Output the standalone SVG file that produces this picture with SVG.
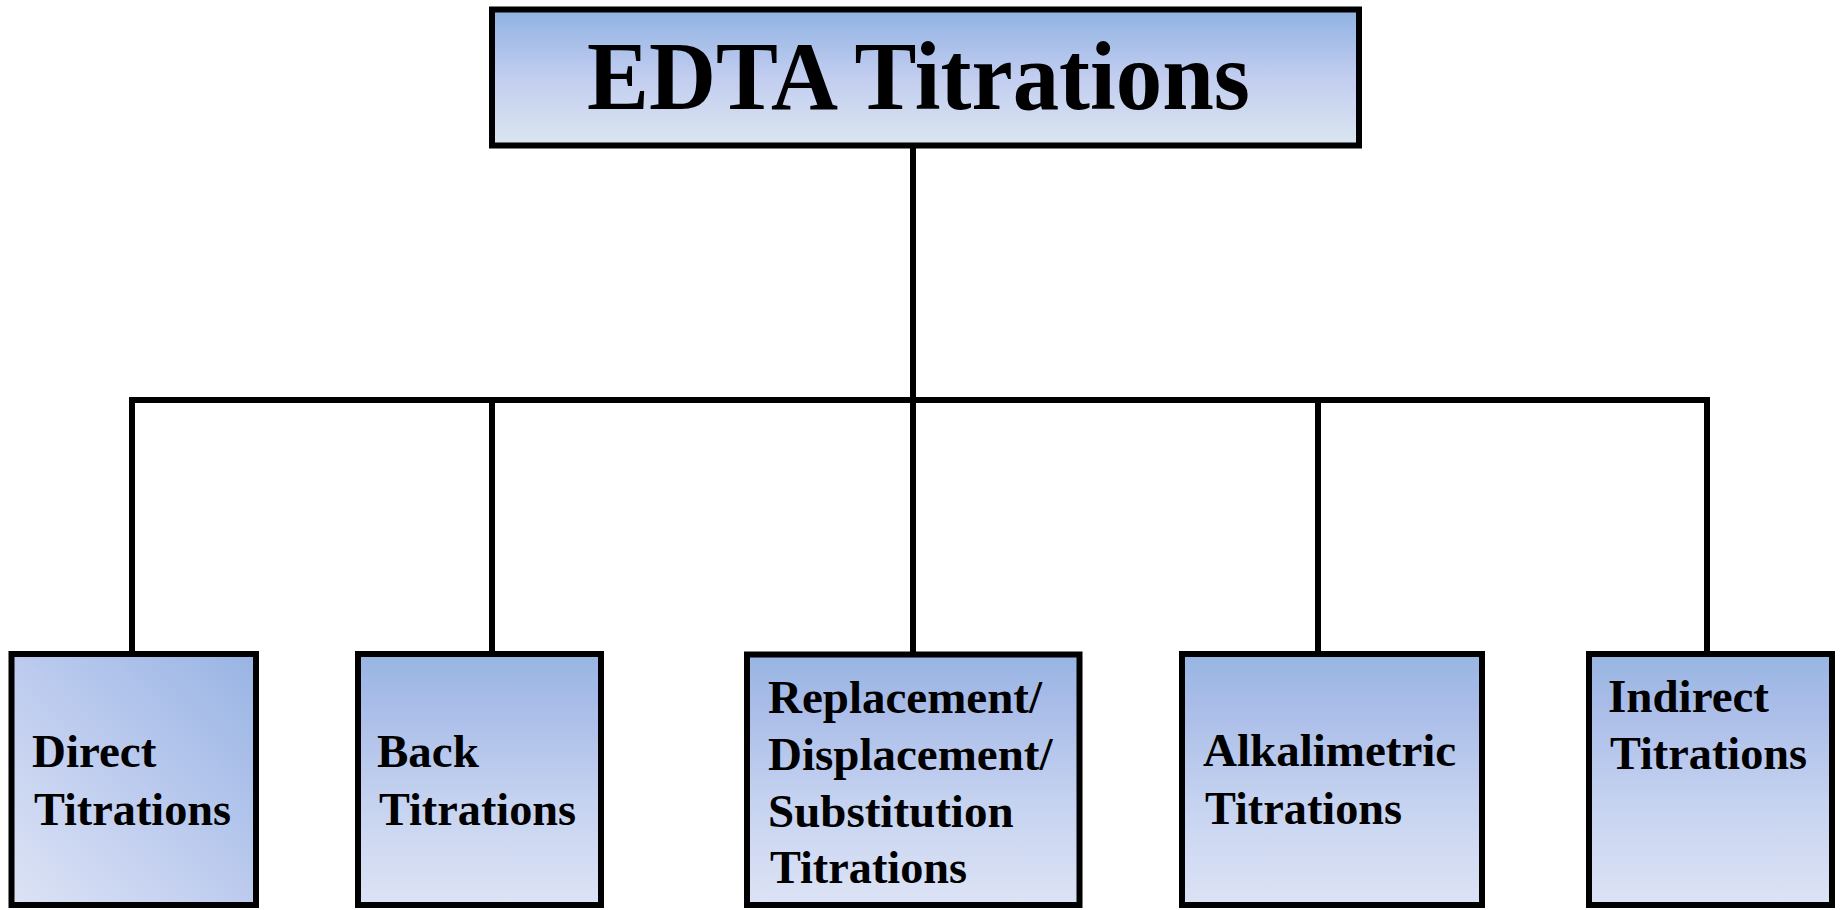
<svg xmlns="http://www.w3.org/2000/svg" width="1843" height="910" viewBox="0 0 1843 910">
  <defs>
    <linearGradient id="gTop" x1="0" y1="0" x2="0" y2="1">
      <stop offset="0" stop-color="#8fb2e2"/>
      <stop offset="0.5" stop-color="#c2cdf0"/>
      <stop offset="1" stop-color="#dbe6f0"/>
    </linearGradient>
    <linearGradient id="gBox" x1="0" y1="0" x2="0" y2="1">
      <stop offset="0" stop-color="#97b5e2"/>
      <stop offset="0.2" stop-color="#a9bce8"/>
      <stop offset="0.6" stop-color="#c6d3f0"/>
      <stop offset="1" stop-color="#dde3f5"/>
    </linearGradient>
    <linearGradient id="gDiag" x1="1" y1="0" x2="0" y2="1">
      <stop offset="0" stop-color="#98b4e4"/>
      <stop offset="0.5" stop-color="#bccbee"/>
      <stop offset="1" stop-color="#dde3f5"/>
    </linearGradient>
  </defs>
  <style>
    .box { stroke: #000; stroke-width: 6; stroke-linejoin: miter; }
    .conn { stroke: #000; stroke-width: 6; fill: none; stroke-linecap: square; }
    .lbl { font-family: "Liberation Serif", "Times New Roman", serif; font-weight: bold; font-size: 47px; fill: #000; }
    .title { font-family: "Liberation Serif", "Times New Roman", serif; font-weight: bold; font-size: 97px; fill: #000; }
  </style>
  <rect width="1843" height="910" fill="#fff"/>

  <g id="connectors">
    <line class="conn" x1="913" y1="146" x2="913" y2="654"/>
    <polyline class="conn" points="132,654 132,400 1707,400 1707,654"/>
    <line class="conn" x1="492" y1="400" x2="492" y2="654"/>
    <line class="conn" x1="1318" y1="400" x2="1318" y2="654"/>
  </g>

  <g id="node-edta">
    <rect class="box" x="492" y="9.5" width="867" height="136" fill="url(#gTop)"/>
    <text class="title" x="587" y="109" textLength="663" lengthAdjust="spacingAndGlyphs">EDTA Titrations</text>
  </g>

  <g id="node-direct">
    <rect class="box" x="11.5" y="654" width="244.5" height="251" fill="url(#gDiag)"/>
    <text class="lbl" x="32" y="767">Direct</text>
    <text class="lbl" x="34" y="825" textLength="197" lengthAdjust="spacingAndGlyphs">Titrations</text>
  </g>

  <g id="node-back">
    <rect class="box" x="358" y="654" width="243" height="251" fill="url(#gBox)"/>
    <text class="lbl" x="377" y="767">Back</text>
    <text class="lbl" x="379" y="825" textLength="197" lengthAdjust="spacingAndGlyphs">Titrations</text>
  </g>

  <g id="node-replacement">
    <rect class="box" x="747" y="654.5" width="332.5" height="250.5" fill="url(#gBox)"/>
    <text class="lbl" x="768" y="713">Replacement/</text>
    <text class="lbl" x="768" y="770">Displacement/</text>
    <text class="lbl" x="768" y="827">Substitution</text>
    <text class="lbl" x="770" y="883" textLength="197" lengthAdjust="spacingAndGlyphs">Titrations</text>
  </g>

  <g id="node-alkalimetric">
    <rect class="box" x="1182" y="654" width="300" height="251" fill="url(#gBox)"/>
    <text class="lbl" x="1203" y="766">Alkalimetric</text>
    <text class="lbl" x="1205" y="824" textLength="197" lengthAdjust="spacingAndGlyphs">Titrations</text>
  </g>

  <g id="node-indirect">
    <rect class="box" x="1589" y="654" width="243" height="251" fill="url(#gBox)"/>
    <text class="lbl" x="1608" y="712">Indirect</text>
    <text class="lbl" x="1610" y="769" textLength="197" lengthAdjust="spacingAndGlyphs">Titrations</text>
  </g>
</svg>
